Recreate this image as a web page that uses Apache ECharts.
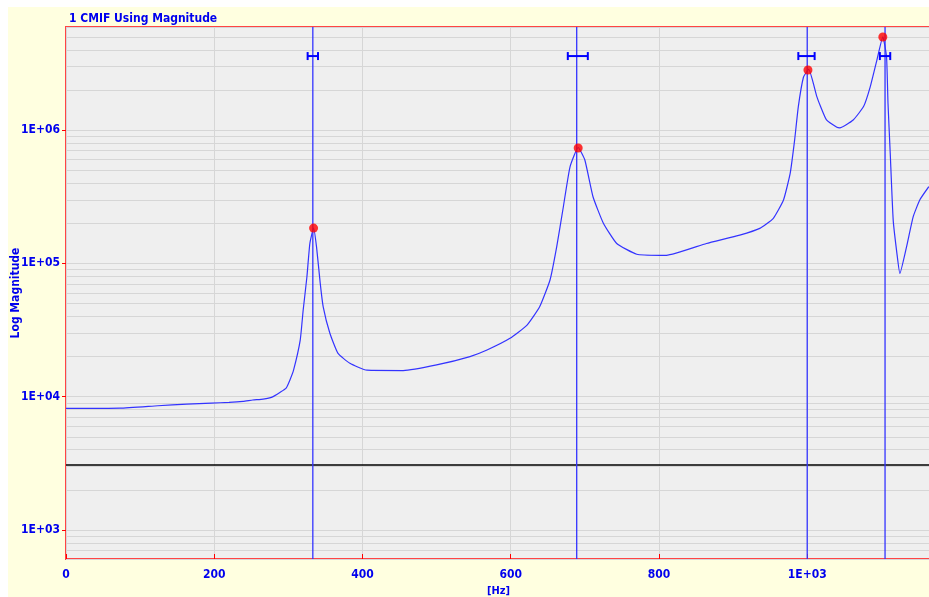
<!DOCTYPE html>
<html>
<head>
<meta charset="utf-8">
<script src="https://cdn.jsdelivr.net/npm/echarts@6/dist/echarts.min.js"></script>
<style>
  html, body { margin: 0; padding: 0; background: #ffffff; }
  .bg { position: absolute; left: 8px; top: 7px; width: 921px; height: 590px; background: #ffffe0; }
  #chart { position: absolute; left: 0; top: 0; width: 929px; height: 597px; }
</style>
</head>
<body>
<div class="bg"></div>
<div id="chart"></div>
<script>
// CMIF curve: frequency [Hz] and magnitude
var freqHz = [0, 73, 124, 163, 196, 220, 239, 252, 266, 278, 289, 297, 302, 307, 316, 320, 325, 329, 334,
  338, 343, 347, 356, 367, 383, 406, 455, 500, 545, 568, 599, 622, 639, 653, 662, 671, 680, 691,
  700, 711, 725, 743, 770, 801, 810, 864, 909, 936, 954, 968, 977, 983, 988, 995, 1002,
  1013, 1018, 1026, 1040, 1044, 1062, 1076, 1085, 1094, 1102,
  1107, 1109, 1112, 1116, 1121, 1125, 1134, 1143, 1152, 1164];
var magnitude = [8170, 8200, 8550, 8800, 8960, 9060, 9220, 9440, 9600, 9930, 10800, 11600, 13300, 15800, 26600, 44700, 79000, 141000, 184000,
  133000, 70800, 47200, 29900, 21100, 17800, 15800, 15700, 17300, 20000, 22400, 27400, 34400, 47200, 75000, 133000, 266000, 530000, 740000,
  596000, 316000, 200000, 141000, 117000, 115000, 115000, 141000, 163000, 183000, 217000, 299000, 473000, 840000, 1500000, 2500000, 2850000,
  1780000, 1500000, 1190000, 1050000, 1040000, 1190000, 1500000, 2110000, 3350000, 5000000,
  3550000, 1580000, 670000, 211000, 119000, 84000, 133000, 224000, 300000, 376000];

// picked peaks
var peakHz = [334, 691, 1001, 1102];
var peakMag = [184000, 733000, 2820000, 4990000];

// mode lines and their frequency ranges
var modeHz = [333, 689, 1000, 1105];
var rangeLow = [326, 677, 988, 1098];
var rangeHigh = [340, 704, 1010, 1112];
var rangeLevel = 3590000;

var thresholdMag = 3070;

var yTicks = [1e3, 1e4, 1e5, 1e6];
var minorMags = [700, 800, 900, 2e3, 3e3, 4e3, 5e3, 6e3, 7e3, 8e3, 9e3,
  2e4, 3e4, 4e4, 5e4, 6e4, 7e4, 8e4, 9e4,
  2e5, 3e5, 4e5, 5e5, 6e5, 7e5, 8e5, 9e5,
  2e6, 3e6, 4e6, 5e6];

var FONT = '"DejaVu Sans Condensed", "DejaVu Sans", sans-serif';
var BLUE = '#0000ee';

var chart = echarts.init(document.getElementById('chart'));

var curve = freqHz.map(function (f, i) { return [f, magnitude[i]]; });
var peaks = peakHz.map(function (f, i) { return [f, peakMag[i]]; });
var ranges = modeHz.map(function (f, i) { return [f, rangeLow[i], rangeHigh[i], rangeLevel]; });
var modes = modeHz.map(function (f) { return [f, rangeLevel]; });

var option = {
  backgroundColor: 'transparent',
  animation: false,
  title: {
    text: '1 CMIF Using Magnitude',
    left: 64,
    top: 8,
    textStyle: { fontFamily: FONT, fontSize: 12, fontWeight: 'bold', color: BLUE }
  },
  grid: {
    left: 66, top: 27, right: -2, bottom: 38,
    outerBoundsMode: 'none',
    containLabel: false,
    show: true,
    backgroundColor: '#efefef',
    borderColor: '#ff4444',
    borderWidth: 2
  },
  xAxis: {
    type: 'value',
    min: 0,
    max: 1167,
    interval: 200,
    name: '[Hz]',
    nameLocation: 'middle',
    nameGap: 26,
    nameTextStyle: { fontFamily: FONT, fontSize: 11, fontWeight: 'bold', color: BLUE },
    axisLine: { show: false },
    axisTick: { show: true, inside: true, length: 5, lineStyle: { color: '#ff0000' } },
    axisLabel: {
      fontFamily: FONT, fontSize: 12, fontWeight: 'bold', color: BLUE, margin: 10,
      showMaxLabel: false,
      formatter: function (v) { return v === 1000 ? '1E+03' : String(v); }
    },
    splitLine: { show: true, lineStyle: { color: '#d6d6d6', width: 1 } }
  },
  yAxis: {
    type: 'log',
    logBase: 10,
    min: 606,
    max: 5930000,
    name: 'Log Magnitude',
    nameLocation: 'middle',
    nameGap: 44,
    nameMoveOverlap: false,
    nameTextStyle: { fontFamily: FONT, fontSize: 12, fontWeight: 'bold', color: BLUE },
    axisLine: { show: false },
    axisTick: { show: true, length: 4, lineStyle: { color: '#ff0000' } },
    axisLabel: {
      fontFamily: FONT, fontSize: 12, fontWeight: 'bold', color: BLUE, margin: 6,
      showMinLabel: false, showMaxLabel: false,
      formatter: function (v) {
        var e = Math.round(Math.log10(v));
        if (yTicks.indexOf(Math.pow(10, e)) < 0 || Math.abs(Math.log10(v) - e) > 1e-6) return '';
        return '1E+0' + e;
      }
    },
    splitLine: { show: true, lineStyle: { color: '#d6d6d6', width: 1 } }
  },
  series: [
    {
      // minor log grid lines
      type: 'line',
      data: [],
      silent: true,
      z: 0,
      markLine: {
        z: 0,
        silent: true,
        symbol: 'none',
        label: { show: false },
        lineStyle: { color: '#d6d6d6', width: 1, type: 'solid' },
        data: minorMags.map(function (m) { return { yAxis: m }; })
      }
    },
    {
      // threshold line
      type: 'line',
      data: [],
      silent: true,
      markLine: {
        z: 2,
        silent: true,
        symbol: 'none',
        label: { show: false },
        lineStyle: { color: '#000000', width: 1.5, type: 'solid' },
        data: [{ yAxis: thresholdMag }]
      }
    },
    {
      // vertical mode lines
      type: 'custom',
      data: modes,
      z: 2,
      silent: true,
      renderItem: function (params, api) {
        var p = api.coord([api.value(0), api.value(1)]);
        var cs = params.coordSys;
        return {
          type: 'line',
          shape: { x1: p[0], y1: cs.y, x2: p[0], y2: cs.y + cs.height },
          style: { stroke: '#3333ff', lineWidth: 1.3 }
        };
      }
    },
    {
      type: 'line',
      data: curve,
      showSymbol: false,
      smooth: 0.15,
      z: 3,
      color: '#3333ff',
      lineStyle: { color: '#3333ff', width: 1.2 }
    },
    {
      type: 'custom',
      data: ranges,
      z: 4,
      renderItem: function (params, api) {
        var a = api.coord([api.value(1), api.value(3)]);
        var b = api.coord([api.value(2), api.value(3)]);
        var st = { stroke: '#0000ff', lineWidth: 2 };
        return {
          type: 'group',
          children: [
            { type: 'line', shape: { x1: a[0], y1: a[1], x2: b[0], y2: b[1] }, style: st },
            { type: 'line', shape: { x1: a[0], y1: a[1] - 4, x2: a[0], y2: a[1] + 4 }, style: st },
            { type: 'line', shape: { x1: b[0], y1: b[1] - 4, x2: b[0], y2: b[1] + 4 }, style: st }
          ]
        };
      }
    },
    {
      type: 'scatter',
      data: peaks,
      z: 5,
      symbol: 'circle',
      symbolSize: 9,
      itemStyle: { color: '#ff0000' }
    }
  ]
};

chart.setOption(option);
</script>
</body>
</html>
